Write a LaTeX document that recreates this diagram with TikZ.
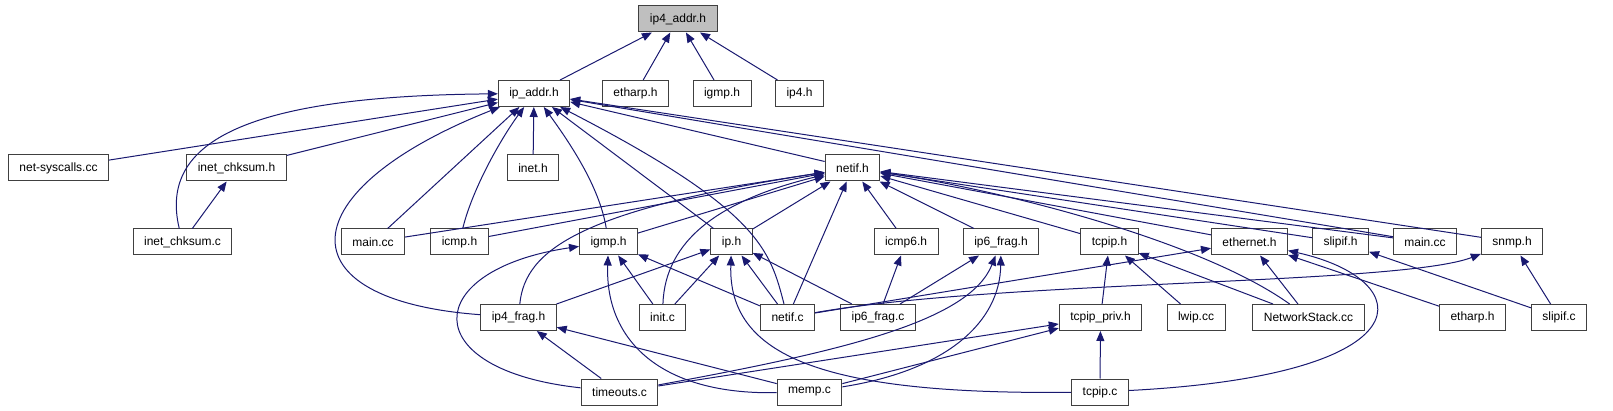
\documentclass[tikz,border=0pt]{standalone}
\usepackage{fontspec}
\setmainfont{Liberation Sans}
\usetikzlibrary{arrows.meta}
\definecolor{edgeblue}{RGB}{25,25,112}
\definecolor{rootgray}{RGB}{191,191,191}
\tikzset{incgraph/.style={x=1pt,y=-1pt,font=\fontsize{12}{14}\selectfont},
  box/.style={draw=black!75,line width=1pt,fill=white,minimum height=26pt,inner xsep=11pt,inner ysep=0pt},
  dep/.style={edgeblue,line width=1pt,-{Triangle[length=10pt,width=8pt]}}}

\begin{document}
\begin{tikzpicture}[incgraph]
    \useasboundingbox (0,0) rectangle (1613,411);
    \node[box,fill=rootgray] (root) at (678,19) {ip4\_addr.h};
    % one row of files after another
    \foreach \n/\x/\t in {ipaddr/534/ip\_addr.h, etharpA/635.5/etharp.h, igmpA/722/igmp.h, ipfour/799.5/ip4.h}
      \node[box] (\n) at (\x,93.5) {\t};
    \foreach \n/\x/\t in {netsys/58.5/net-syscalls.cc, chkh/236.5/inet\_chksum.h, inet/533/inet.h, netifh/852.5/netif.h}
      \node[box] (\n) at (\x,168) {\t};
    \foreach \n/\x/\t in {chkc/182.5/inet\_chksum.c, mainA/373/main.cc, icmp/459.5/icmp.h, igmp/608.5/igmp.h,
        iph/731.5/ip.h, icmpsix/906/icmp6.h, fragsixh/1001/ip6\_frag.h, tcpiph/1109.5/tcpip.h,
        ethh/1249.5/ethernet.h, slipifh/1340.5/slipif.h, mainB/1425/main.cc, snmp/1512/snmp.h}
      \node[box] (\n) at (\x,242) {\t};
    \foreach \n/\x/\t in {fragh/518.5/ip4\_frag.h, init/662.5/init.c, netifc/787.5/netif.c, fragsixc/878/ip6\_frag.c,
        tcpippriv/1100.5/tcpip\_priv.h, lwip/1196/lwip.cc, stack/1308.5/NetworkStack.cc,
        etharpB/1472.5/etharp.h, slipifc/1559/slipif.c}
      \node[box] (\n) at (\x,317.5) {\t};
    \foreach \n/\x/\t in {timeouts/619.5/timeouts.c, memp/809.5/memp.c, tcpipc/1100/tcpip.c}
      \node[box] (\n) at (\x,392) {\t};
    % straight includes
    \foreach \a/\b in {ipaddr/root, etharpA/root, igmpA/root, ipfour/root,
        netsys/ipaddr, chkh/ipaddr, inet/ipaddr, mainA/ipaddr, iph/ipaddr, netifh/ipaddr, mainB/ipaddr, snmp/ipaddr,
        chkc/chkh,
        mainA/netifh, icmp/netifh, igmp/netifh, iph/netifh, netifc/netifh, icmpsix/netifh, fragsixh/netifh,
        tcpiph/netifh, ethh/netifh, slipifh/netifh, mainB/netifh,
        fragh/iph, init/iph, netifc/iph, fragsixc/iph, init/igmp, netifc/igmp,
        fragsixc/icmpsix, fragsixc/fragsixh, tcpippriv/tcpiph, lwip/tcpiph, stack/tcpiph,
        netifc/ethh, stack/ethh, etharpB/ethh, slipifc/slipifh, slipifc/snmp,
        timeouts/fragh, memp/fragh, timeouts/tcpippriv, memp/tcpippriv, tcpipc/tcpippriv}
      \draw[dep] (\a) -- (\b);
    % bent includes
    \draw[dep] (chkc) .. controls (158,140) and (250,96) .. (ipaddr);
    \draw[dep] (fragh) .. controls (280,300) and (290,190) .. (ipaddr);
    \draw[dep] (icmp) .. controls (472,190) and (500,140) .. (ipaddr);
    \draw[dep] (igmp) .. controls (600,190) and (575,150) .. (ipaddr);
    \draw[dep] (netifc) .. controls (770,250) and (760,210) .. (ipaddr);
    \draw[dep] (fragh) .. controls (525,250) and (580,210) .. (netifh);
    \draw[dep] (init) .. controls (665,240) and (720,200) .. (netifh);
    \draw[dep] (stack) .. controls (1200,240) and (1000,190) .. (netifh);
    \draw[dep] (timeouts) .. controls (415,370) and (420,270) .. (igmp);
    \draw[dep] (memp) .. controls (660,395) and (605,340) .. (igmp);
    \draw[dep] (tcpipc) .. controls (820,395) and (728,355) .. (iph);
    \draw[dep] (memp) .. controls (950,370) and (1000,320) .. (fragsixh);
    \draw[dep] (timeouts) .. controls (850,350) and (970,320) .. (fragsixh);
    \draw[dep] (tcpipc) .. controls (1430,375) and (1420,280) .. (ethh);
    \draw[dep] (netifc) .. controls (1000,280) and (1400,285) .. (snmp);
\end{tikzpicture}
\end{document}
